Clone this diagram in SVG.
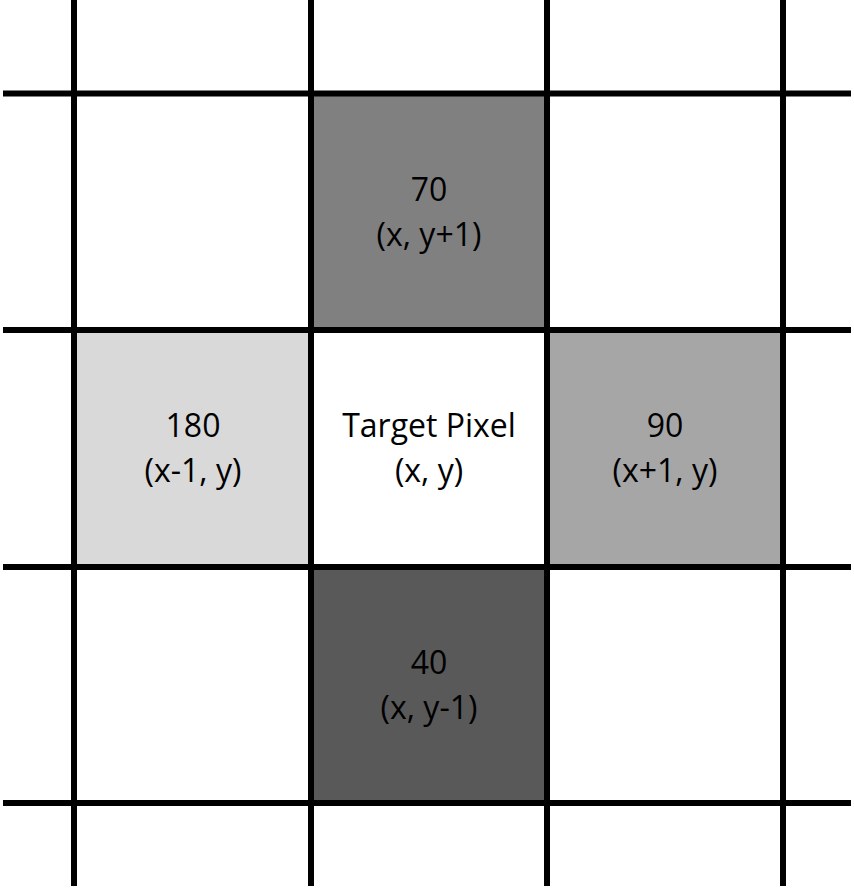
<svg xmlns="http://www.w3.org/2000/svg" width="854" height="889" viewBox="0 0 854 889">
<style>
.t{font-family:"Open Sans","Liberation Sans",Arial,sans-serif;font-size:32px;fill:#000;text-anchor:middle}
.ln{stroke:#000;stroke-width:6;fill:none}
</style>
<rect width="854" height="889" fill="#fff"/>
<g id="cell-top"><rect x="311" y="94" width="236" height="236" fill="#808080"/>
<text class="t" x="429" y="201">70</text><text class="t" x="429" y="246">(x, y+1)</text></g>
<g id="cell-left"><rect x="74" y="330" width="237" height="237" fill="#d9d9d9"/>
<text class="t" x="193" y="437">180</text><text class="t" x="193" y="482">(x-1, y)</text></g>
<g id="cell-center"><text class="t" x="429" y="437">Target Pixel</text><text class="t" x="429" y="482">(x, y)</text></g>
<g id="cell-right"><rect x="547" y="330" width="236" height="237" fill="#a6a6a6"/>
<text class="t" x="665" y="437">90</text><text class="t" x="665" y="482">(x+1, y)</text></g>
<g id="cell-bottom"><rect x="311" y="567" width="236" height="236" fill="#595959"/>
<text class="t" x="429" y="674">40</text><text class="t" x="429" y="719">(x, y-1)</text></g>
<g id="grid">
<line class="ln" x1="74" y1="0" x2="74" y2="886"/>
<line class="ln" x1="311" y1="0" x2="311" y2="886"/>
<line class="ln" x1="547" y1="0" x2="547" y2="886"/>
<line class="ln" x1="783" y1="0" x2="783" y2="886"/>
<line class="ln" x1="3" y1="93.5" x2="851" y2="93.5"/>
<line class="ln" x1="3" y1="330" x2="851" y2="330"/>
<line class="ln" x1="3" y1="567" x2="851" y2="567"/>
<line class="ln" x1="3" y1="803" x2="851" y2="803"/>
</g>
</svg>
